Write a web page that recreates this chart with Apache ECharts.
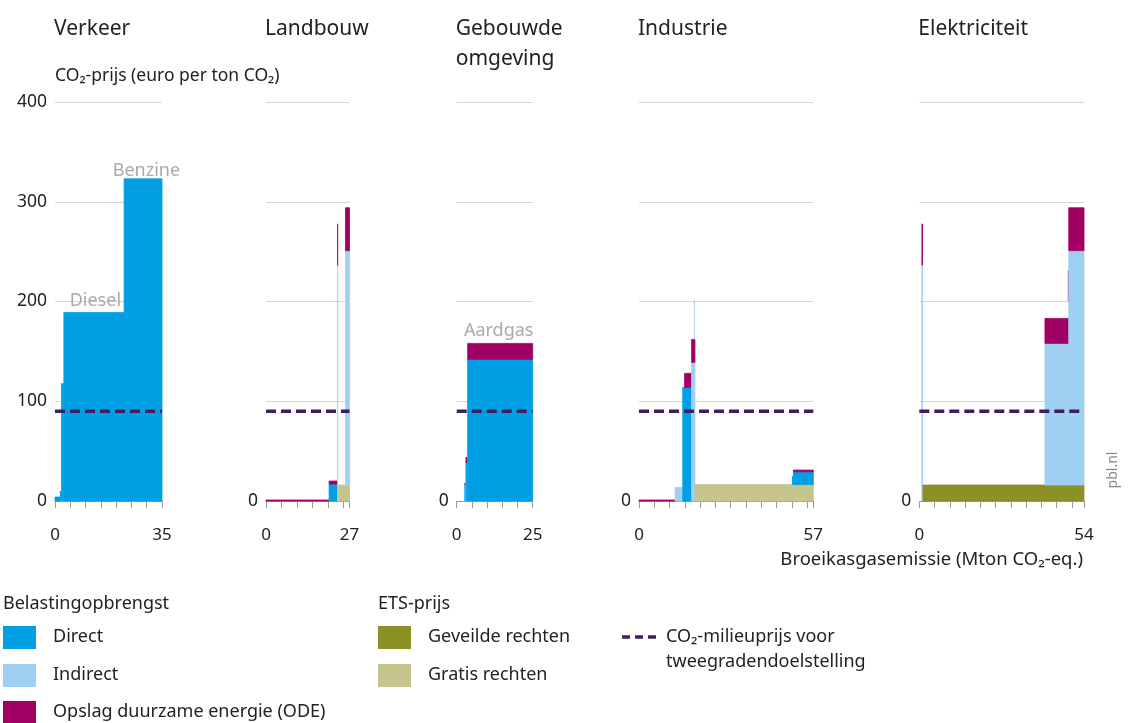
<!DOCTYPE html>
<html><head><meta charset="utf-8">
<script src="https://cdn.jsdelivr.net/npm/echarts@6/dist/echarts.min.js"></script>
<style>html,body{margin:0;padding:0;background:#fff}#c{width:1128px;height:723px}</style>
</head><body><div id="c"></div>
<script>
// ---------- DATA ----------
const sectors = ['Verkeer', 'Landbouw', 'Gebouwde\nomgeving', 'Industrie', 'Elektriciteit'];
const sectorTotals = [35, 27, 25, 57, 54];           // Mton CO2-eq.
const yTicks = [0, 100, 200, 300, 400];
const milieuprijs = 90;                              // euro per ton CO2
const categories = ['Direct', 'Indirect', 'Opslag duurzame energie (ODE)', 'Geveilde rechten', 'Gratis rechten'];
// segments: [emission from, emission to, category index, price from, price to]
const verkeer = [
  [0, 1.6, 0, 0, 4],
  [1.6, 2.0, 0, 0, 10],
  [2.0, 2.9, 0, 0, 118],
  [2.9, 22.6, 0, 0, 189],
  [22.6, 35, 0, 0, 323]
];
const landbouw = [
  [0, 20.4, 2, 0, 1],
  [20.4, 23.0, 0, 0, 17],
  [20.4, 23.0, 2, 17, 20],
  [23.0, 23.35, 1, 0, 236],
  [23.0, 23.35, 2, 236, 278],
  [23.35, 27, 4, 0, 16],
  [25.7, 27, 1, 16, 251],
  [25.7, 27, 2, 251, 294]
];
const gebouwd = [
  [2.5, 2.9, 0, 0, 16],
  [2.5, 2.9, 2, 16, 18],
  [2.9, 3.6, 0, 0, 38],
  [2.9, 3.6, 2, 38, 44],
  [3.6, 25, 0, 0, 142],
  [3.6, 25, 2, 142, 158]
];
const industrie = [
  [0, 11.8, 2, 0, 1],
  [11.8, 14.3, 1, 0, 13.5],
  [14.3, 17.2, 0, 0, 114],
  [14.9, 17.2, 2, 114, 128],
  [17.2, 18.3, 1, 0, 139],
  [17.2, 18.3, 2, 139, 162],
  [17.95, 18.2, 1, 162, 202],
  [18.3, 57, 4, 0, 16.5],
  [50.0, 50.5, 0, 16.5, 25],
  [50.5, 57, 0, 16.5, 29.3],
  [50.5, 57, 2, 29.3, 31]
];
const elektriciteit = [
  [0.7, 1.2, 1, 0, 236],
  [0.7, 1.2, 2, 236, 278],
  [1.2, 54, 3, 0, 16],
  [41.2, 49, 1, 16, 158],
  [41.2, 49, 2, 158, 183],
  [48.7, 49.0, 2, 200, 231],
  [49, 54, 1, 16, 251],
  [49, 54, 2, 251, 294]
];
const panelData = [verkeer, landbouw, gebouwd, industrie, elektriciteit];
// labels on bars: [panel, emission, price, text]
const barLabels = [
  [0, 13.2, 201, 'Diesel'],
  [0, 29.9, 331, 'Benzine'],
  [2, 13.8, 171, 'Aardgas']
];

// ---------- STYLE ----------
const catColors = ['#009fe3', '#9fcff2', '#a00064', '#8c9126', '#c5c48c'];
const dashColor = '#3d1f5e';
const FONT = 'Noto Sans';
const gridLeft = [55, 266, 456.7, 639, 919.3];
const gridWidth = [107, 83.5, 76, 174.3, 164.7];
const gridTop = 102, gridHeight = 399;

const chart = echarts.init(document.getElementById('c'), null, {renderer: 'canvas'});

const grids = [], xAxes = [], yAxes = [], series = [], titles = [];
panelData.forEach((segs, i) => {
  const max = sectorTotals[i];
  grids.push({left: gridLeft[i], width: gridWidth[i], top: gridTop, height: gridHeight});
  xAxes.push({
    gridIndex: i, type: 'value', min: 0, max: max, interval: 5,
    axisLine: {show: true, lineStyle: {color: '#9a9a9a', width: 1}},
    axisTick: {show: true, length: 7, lineStyle: {color: '#9a9a9a'}},
    axisLabel: {
      margin: 26, fontSize: 17, color: '#222', fontFamily: FONT,
      formatter: v => (v === 0 || v === max) ? String(v) : ''
    },
    splitLine: {show: false}
  });
  yAxes.push({
    gridIndex: i, type: 'value', min: yTicks[0], max: yTicks[yTicks.length - 1], interval: 100,
    axisLine: {show: false}, axisTick: {show: false},
    axisLabel: {
      margin: 8, fontSize: 17.5, color: '#222', fontFamily: FONT,
      formatter: v => (i === 0 || v === 0) ? String(v) : ''
    },
    splitLine: {show: true, lineStyle: {color: '#d6d6d6', width: 1}},
    name: i === 0 ? 'CO₂-prijs (euro per ton CO₂)' : '',
    nameLocation: 'end', nameGap: 17,
    nameTextStyle: {align: 'left', fontSize: 17.5, color: '#222', fontFamily: FONT}
  });
  titles.push({
    text: sectors[i], left: gridLeft[i] - 1, top: 14, padding: 0,
    textStyle: {fontSize: 21, fontWeight: 'normal', color: '#222', fontFamily: FONT, lineHeight: 30}
  });
  series.push({
    type: 'custom', xAxisIndex: i, yAxisIndex: i, z: 2,
    data: segs,
    encode: {x: [0, 1], y: [3, 4]},
    renderItem: (params, api) => {
      const p0 = api.coord([api.value(0), api.value(4)]);
      const p1 = api.coord([api.value(1), api.value(3)]);
      const w = Math.max(1, p1[0] - p0[0]);
      const c = catColors[api.value(2)];
      return {
        type: 'rect',
        shape: {x: p0[0], y: p0[1], width: w, height: p1[1] - p0[1]},
        style: w > 3 ? {fill: c, stroke: c, lineWidth: 0.8} : {fill: c}
      };
    }
  });
  series.push({
    type: 'line', xAxisIndex: i, yAxisIndex: i, z: 5,
    data: [[0, milieuprijs], [max, milieuprijs]],
    symbol: 'none', silent: true,
    lineStyle: {color: dashColor, width: 3.5, type: [10, 5]}
  });
  const lbls = barLabels.filter(l => l[0] === i);
  if (lbls.length) {
    series.push({
      type: 'custom', xAxisIndex: i, yAxisIndex: i, z: 6,
      data: lbls.map(l => [l[1], l[2], l[3]]),
      renderItem: (params, api) => {
        const p = api.coord([api.value(0), api.value(1)]);
        return {
          type: 'text', x: p[0], y: p[1],
          style: {text: lbls[params.dataIndex][3], fill: '#aaaaaa', fontSize: 18,
                  fontFamily: FONT, align: 'center', verticalAlign: 'middle'}
        };
      }
    });
  }
});

// legend & annotations
const graphics = [];
function legendText(x, y, s) {
  graphics.push({type: 'text', x: x, y: y, style: {text: s, fontSize: 18, fill: '#222', fontFamily: FONT, verticalAlign: 'middle', align: 'left'}});
}
function legendRect(x, y, c) {
  graphics.push({type: 'rect', shape: {x: x, y: y, width: 33, height: 23}, style: {fill: c}});
}
legendText(3, 604, 'Belastingopbrengst');
legendRect(3, 626, catColors[0]); legendText(53, 637, categories[0]);
legendRect(3, 664, catColors[1]); legendText(53, 675, categories[1]);
legendRect(3, 701, catColors[2]); legendText(53, 712, categories[2]);
legendText(378, 604, 'ETS-prijs');
legendRect(378, 626, catColors[3]); legendText(428, 637, categories[3]);
legendRect(378, 664, catColors[4]); legendText(428, 675, categories[4]);
graphics.push({type: 'line', shape: {x1: 622, y1: 637, x2: 656, y2: 637},
  style: {stroke: dashColor, lineWidth: 3.5, lineDash: [8, 5]}});
legendText(666, 637, 'CO₂-milieuprijs voor');
legendText(666, 662, 'tweegradendoelstelling');
graphics.push({type: 'text', x: 1083, y: 560,
  style: {text: 'Broeikasgasemissie (Mton CO₂-eq.)', fontSize: 18.5, fill: '#222', fontFamily: FONT, align: 'right', verticalAlign: 'middle'}});
graphics.push({type: 'text', x: 1113, y: 470, rotation: Math.PI / 2,
  style: {text: 'pbl.nl', fontSize: 14, fill: '#888', fontFamily: FONT, align: 'center', verticalAlign: 'middle'}});

chart.setOption({
  animation: false,
  backgroundColor: '#fff',
  title: titles,
  grid: grids,
  xAxis: xAxes,
  yAxis: yAxes,
  series: series,
  graphic: graphics
});
</script>
</body></html>
